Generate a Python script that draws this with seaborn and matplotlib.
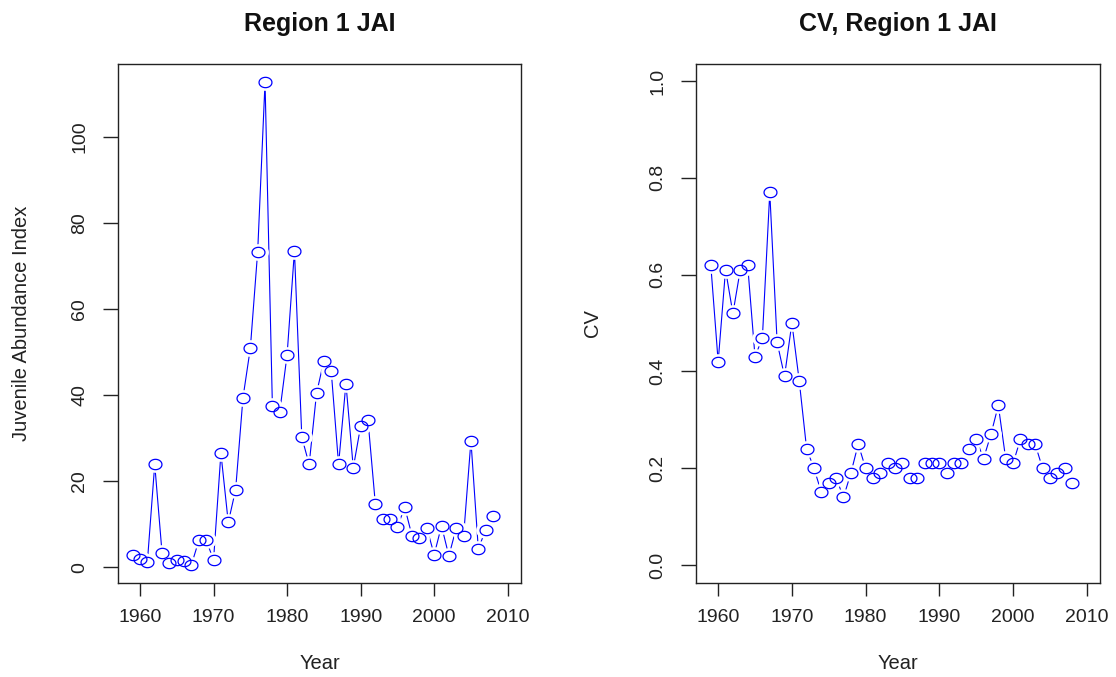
import numpy as np
import pandas as pd
import seaborn as sns
import matplotlib
matplotlib.use("Agg")
import matplotlib.pyplot as plt

sns.set_style("ticks")
plt.rcParams['font.family'] = ['Liberation Sans', 'DejaVu Sans']

# data
years = [1959, 1960, 1961, 1962, 1963, 1964, 1965, 1966, 1967, 1968,
         1969, 1970, 1971, 1972, 1973, 1974, 1975, 1976, 1977, 1978,
         1979, 1980, 1981, 1982, 1983, 1984, 1985, 1986, 1987, 1988,
         1989, 1990, 1991, 1992, 1993, 1994, 1995, 1996, 1997, 1998,
         1999, 2000, 2001, 2002, 2003, 2004, 2005, 2006, 2007, 2008]

jai = [2.9, 2.0, 1.2, 23.9, 3.2, 0.9, 1.7, 1.5, 0.6, 6.2,
       6.2, 1.7, 26.5, 10.4, 18.0, 39.4, 50.9, 73.4, 112.8, 37.5,
       36.1, 49.4, 73.6, 30.2, 23.9, 40.4, 48.0, 45.6, 23.9, 42.7,
       23.1, 32.8, 34.2, 14.7, 11.2, 11.2, 9.4, 13.9, 7.2, 6.7,
       9.1, 2.9, 9.6, 2.6, 9.1, 7.2, 29.4, 4.3, 8.6, 12.0]

cv = [0.62, 0.42, 0.61, 0.52, 0.61, 0.62, 0.43, 0.47, 0.77, 0.46,
      0.39, 0.50, 0.38, 0.24, 0.20, 0.15, 0.17, 0.18, 0.14, 0.19,
      0.25, 0.20, 0.18, 0.19, 0.21, 0.20, 0.21, 0.18, 0.18, 0.21,
      0.21, 0.21, 0.19, 0.21, 0.21, 0.24, 0.26, 0.22, 0.27, 0.33,
      0.22, 0.21, 0.26, 0.25, 0.25, 0.20, 0.18, 0.19, 0.20, 0.17]

x_ticks = [1960, 1970, 1980, 1990, 2000, 2010]
jai_ticks = [0, 20, 40, 60, 80, 100]
cv_ticks = [0.0, 0.2, 0.4, 0.6, 0.8, 1.0]
cv_ticklabels = ["0.0", "0.2", "0.4", "0.6", "0.8", "1.0"]

df = pd.DataFrame({"Year": years, "JAI": jai, "CV": cv})

# slightly wide circle, like the stretched R output
theta = np.linspace(0, 2 * np.pi, 60)
ell = list(zip(1.25 * np.cos(theta), np.sin(theta)))


def r_style_b(ax, col):
    # R type="b": line with gaps around the open circles
    sns.lineplot(data=df, x="Year", y=col, ax=ax, color="blue", lw=0.8, zorder=2)
    sns.lineplot(data=df, x="Year", y=col, ax=ax, linestyle="", marker=ell,
                 markersize=15, markerfacecolor="white", markeredgecolor="white",
                 markeredgewidth=0, zorder=3)
    sns.lineplot(data=df, x="Year", y=col, ax=ax, linestyle="", marker=ell,
                 markersize=9.3, markerfacecolor="none", markeredgecolor="blue",
                 markeredgewidth=0.9, zorder=4)


fig = plt.figure(figsize=(11.16, 6.77), dpi=100)
ax1 = fig.add_axes([0.1057, 0.1388, 0.3611, 0.7666])
ax2 = fig.add_axes([0.6237, 0.1388, 0.3620, 0.7666])

r_style_b(ax1, "JAI")
r_style_b(ax2, "CV")

ax1.set_xlim(1957.0, 2011.8)
ax1.set_ylim(-3.7, 117.0)
ax1.set_yticks(jai_ticks)
ax1.set_yticklabels([str(t) for t in jai_ticks])

ax2.set_xlim(1957.0, 2011.8)
ax2.set_ylim(-0.037, 1.035)
ax2.set_yticks(cv_ticks)
ax2.set_yticklabels(cv_ticklabels)

for ax, title, ylab, ylx in [(ax1, "Region 1 JAI", "Juvenile Abundance Index", -0.215),
                             (ax2, "CV, Region 1 JAI", "CV", -0.232)]:
    ax.set_xticks(x_ticks)
    ax.set_xticklabels([str(t) for t in x_ticks])
    ax.tick_params(axis="x", length=9.4, width=1, pad=9, labelsize=14, colors="#222222")
    ax.tick_params(axis="y", length=10.5, width=1, pad=11, labelsize=14,
                   labelrotation=90, colors="#222222")
    for lab in ax.get_yticklabels():
        lab.set_verticalalignment("center")
    for sp in ax.spines.values():
        sp.set_visible(True)
        sp.set_linewidth(1.0)
        sp.set_color("#222222")
    ax.set_title(title, fontsize=18, fontweight="bold", y=1.064, pad=0, color="#111111")
    ax.set_xlabel("Year", fontsize=14.5, color="#222222")
    ax.set_ylabel(ylab, fontsize=14.5, color="#222222")
    ax.xaxis.set_label_coords(0.5, -0.137)
    ax.yaxis.set_label_coords(ylx, 0.5)
    ax.grid(False)

plt.savefig("out.png", dpi=100)
plt.close()
